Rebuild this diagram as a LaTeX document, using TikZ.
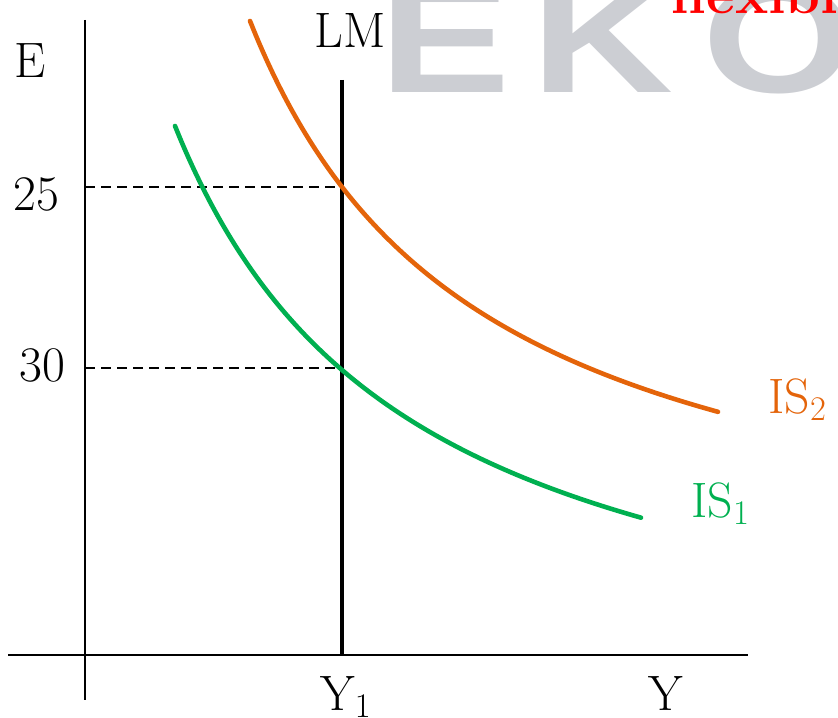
\documentclass[tikz,border=0pt]{standalone}
\usepackage{fontspec}
\newfontfamily\wmfont{Liberation Sans}
\usetikzlibrary{positioning,calc}

\definecolor{isorange}{RGB}{228,100,10}
\definecolor{isgreen}{RGB}{0,176,80}
\definecolor{wmgray}{RGB}{204,206,211}

\begin{document}
\begin{tikzpicture}[x=0.5pt,y=-0.5pt,font=\Huge,
  axis/.style={line width=1pt},
  lmline/.style={line width=2pt},
  guide/.style={line width=1pt,dash pattern=on 5pt off 3pt},
  iscurve/.style={line width=2.3pt,line cap=round},
  lab/.style={anchor=base west,inner sep=0pt},
  wm/.style={anchor=base west,inner sep=0pt,text=wmgray,
    font=\wmfont\fontsize{78}{78}\selectfont\bfseries}]
  \useasboundingbox (0,0) rectangle (838,717);
  % logo and heading, cut at the edge
  \begin{scope}
    \clip (0,0) rectangle (838,717);
    \node[wm] (wmE) at (379,92) {\scalebox{1.26}[1]{E}};
    \node[wm] (wmK) at (531,92) {\scalebox{1.26}[1]{K}};
    \node[wm] (wmO) at (702,92) {\scalebox{1.26}[1]{O}};
    \node[lab,text=red,font=\fontsize{28}{30}\selectfont\bfseries] (title) at (671,14) {flexible};
  \end{scope}
  % axes
  \coordinate (etop) at (85,20);
  \coordinate (ebot) at (85,700);
  \coordinate (yleft) at (8,655);
  \coordinate (yright) at (748,655);
  \draw[axis] (etop) -- (ebot);
  \draw[axis] (yleft) -- (yright);
  % LM line and guides
  \coordinate (lmtop) at (342,80);
  \coordinate (lmbot) at (342,655);
  \coordinate (a25) at (85,187);
  \coordinate (b25) at (342,187);
  \coordinate (a30) at (85,368);
  \coordinate (b30) at (342,368);
  \draw[guide] (a25) -- (b25);
  \draw[guide] (a30) -- (b30);
  \draw[lmline] (lmtop) -- (lmbot);
  % IS curves
  \draw[iscurve,isorange] plot[domain=250:718,samples=80,smooth]
    (\x,{605.6-1356.33/((\x-18)/100)});
  \draw[iscurve,isgreen] plot[domain=175:641,samples=80,smooth]
    (\x,{717.7-1408.29/((\x+63)/100)});
  % labels
  \node[lab] (elab) at (14,77) {E};
  \node[lab] (n25) at (13,210) {25};
  \node[lab] (n30) at (19,381) {30};
  \node[lab] (lmlab) at (314,47) {LM};
  \node[lab] (y1lab) at (320,710) {Y$_{\scriptscriptstyle 1}$};
  \node[lab] (ylab) at (648,710) {Y};
  \node[lab,text=isorange] (is2lab) at (768,413) {IS$_{\scriptscriptstyle 2}$};
  \node[lab,text=isgreen] (is1lab) at (691,517) {IS$_{\scriptscriptstyle 1}$};
\end{tikzpicture}
\end{document}
